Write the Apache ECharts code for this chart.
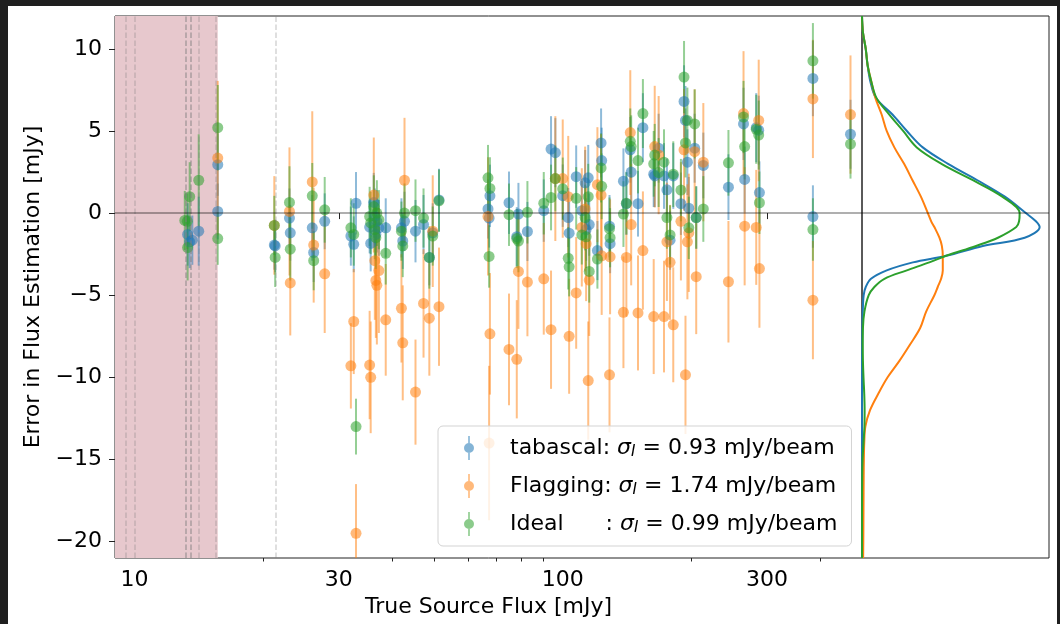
<!DOCTYPE html>
<html><head><meta charset="utf-8">
<script src="https://cdn.jsdelivr.net/npm/echarts@6/dist/echarts.min.js"></script>
<style>
html,body{margin:0;padding:0;background:#1f1f1f;width:1060px;height:624px;overflow:hidden}
#chart{position:absolute;left:8px;top:6px;width:1049px;height:618px;background:#fff}
</style></head>
<body><div id="chart"></div>
<script>
// ---------- data ----------
const X_RANGE = [9.0, 500];          // true source flux [mJy] (log axis)
const Y_RANGE = [-21, 12];           // error in flux estimation [mJy]
const X_TICKS = [10, 30, 100, 300];
const X_MINOR = [20, 40, 50, 60, 70, 80, 90, 200, 400];
const Y_TICKS = [-20, -15, -10, -5, 0, 5, 10];
const FLAG_SPAN = [9.0, 15.64];
const DASHED_FLUX = [9.54, 9.96, 13.1, 13.28, 13.45, 13.64, 14.12, 15.64, 21.2];
const SERIES_NAMES = ['tabascal', 'Flagging', 'Ideal'];
const SIGMA_LABELS = ['0.93', '1.74', '0.99'];
const NAME_PADS = ['tabascal: ', 'Flagging: ', 'Ideal      : '];

// [flux, error, error-bar half length]
const tabascal = [
 [13.3,-1.3,1.9],[13.45,-1.75,1.6],[13.64,-1.65,1.5],[14.12,-1.1,2.1],[15.64,2.95,1.9],[15.64,0.1,1.7],
 [21.2,-1.95,1.5],[21.3,-2.0,1.6],[23.0,-0.3,1.8],[23.1,-1.2,1.7],[26.0,-0.9,2.0],[26.2,-2.4,1.8],[27.8,-0.5,1.7],
 [32.0,-1.4,1.8],[32.9,0.6,1.9],[32.5,-1.9,1.7],
 [35.4,-0.85,1.6],[35.6,-1.85,1.7],[36.2,0.65,1.8],[36.4,-0.2,1.7],[36.6,-1.3,1.6],[36.8,-0.5,1.9],[37.2,-0.9,1.7],[38.6,-0.9,1.8],
 [42.0,-0.9,1.8],[42.3,-1.7,1.7],[42.7,-0.5,1.8],[45.3,-1.1,1.9],[47.3,-0.7,1.8],[48.8,-2.7,1.7],[49.7,-1.2,1.8],[51.4,0.8,1.9],
 [66.9,0.25,1.8],[67.6,1.05,1.9],[67.3,-0.3,1.8],[74.9,0.63,1.9],[78.1,-1.44,1.8],[78.8,-0.06,1.9],[82.7,-1.12,1.8],
 [90.3,0.15,1.9],[93.9,3.9,2.0],[96.1,3.68,2.1],[100,1.06,1.9],[103,-0.27,1.8],[103.5,-1.22,1.9],
 [107.5,2.22,1.9],[110.8,0.15,1.8],[112.8,1.84,2.0],[113.4,-1.0,1.9],[114.7,2.15,2.0],[115.3,-0.7,1.9],[120.5,-2.28,1.8],
 [122.9,4.27,2.1],[123.3,3.2,2.0],[128.6,-0.8,1.9],[129,-1.86,1.8],[138.6,1.94,2.0],[140.8,0.57,1.9],[143.8,3.85,2.0],
 [144.5,2.5,1.9],[149.9,0.57,2.0],[153.9,5.2,2.1],[163.1,2.37,2.0],[164,2.26,1.9],[167.5,3.95,2.1],[172.4,2.26,2.0],
 [175.1,1.42,1.9],[178.1,-1.65,1.8],[181.2,2.26,2.0],[188.8,0.57,1.9],[192,6.8,2.2],[193.5,5.64,2.1],[195.5,3.1,2.0],
 [197,0.3,1.9],[203.3,3.95,2.1],[205,-0.27,1.9],[213,2.9,2.0],[243.8,1.58,2.0],[264.4,5.43,2.2],[266,2.05,2.0],
 [283.1,5.2,2.1],[286.9,5.05,2.1],[288,1.25,1.9],[384,8.2,2.3],[384,-0.21,1.9],[470,4.8,2.1]
];
const flagging = [
 [15.64,3.35,4.7],
 [21.2,-0.75,3.0],[23.0,0.1,3.9],[23.1,-4.25,3.2],[26.0,1.9,4.3],[26.2,-1.95,3.5],[27.8,-3.7,3.6],
 [32.0,-9.3,2.6],[32.9,-19.5,3.0],[32.5,-6.6,3.2],
 [35.4,-9.25,3.3],[35.6,-10.0,3.4],[36.2,1.1,3.5],[36.4,-2.9,3.6],[36.6,-4.1,3.5],[36.8,-4.4,3.6],[37.2,-3.5,3.8],[38.6,-6.5,3.4],
 [42.0,-5.8,3.3],[42.3,-7.9,3.5],[42.7,2.0,3.8],[45.3,-10.9,3.2],[47.3,-5.5,3.3],[48.8,-6.4,3.5],[49.7,-1.1,3.4],[51.4,-5.7,3.6],
 [66.9,-0.2,3.6],[67.6,-7.35,3.7],[67.3,-14.0,4.7],[74.9,-8.3,3.4],[78.1,-8.9,3.6],[78.8,-3.55,3.5],[82.7,-4.2,3.3],
 [90.3,-4.0,3.4],[93.9,-7.1,3.6],[96.1,2.1,3.8],[100,2.1,3.6],[103,1.0,3.7],[103.5,-7.5,3.5],
 [107.5,-4.86,3.4],[110.8,-0.87,3.6],[112.8,0.25,3.8],[113.4,-1.86,3.5],[114.7,-10.2,3.6],[115.3,-4.08,3.4],[120.5,1.73,3.5],
 [122.9,1.1,3.7],[123.3,-2.6,3.6],[128.6,-9.85,3.5],[129,-2.66,3.5],[138.6,-6.04,3.4],[140.8,-2.7,3.6],[143.8,4.9,3.8],
 [144.5,-0.7,3.7],[149.9,-6.08,3.5],[153.9,-2.28,3.6],[163.1,-6.3,3.5],[164,4.05,3.7],[167.5,3.53,3.6],[172.4,-6.3,3.4],
 [175.1,-1.75,3.6],[178.1,-3.0,3.5],[181.2,-6.8,3.5],[188.8,-0.5,3.6],[192,3.85,3.7],[193.5,-9.85,3.6],[195.5,-1.75,3.5],
 [197,-1.2,3.6],[203.3,3.74,3.8],[205,-3.87,3.5],[213,3.1,3.6],[243.8,-4.18,3.7],[264.4,6.06,3.8],[266,-0.8,3.6],
 [283.1,-0.87,3.5],[286.9,5.64,3.7],[288,-3.38,3.6],[384,6.95,3.6],[384,-5.3,3.6],[470,6.0,3.6]
];
const ideal = [
 [13.1,-0.45,1.8],[13.28,-0.5,1.7],[13.3,-2.1,2.0],[13.45,1.0,2.1],[14.12,2.0,2.8],[15.64,5.2,2.6],[15.64,-1.55,1.6],
 [21.2,-0.75,1.8],[21.3,-2.7,1.8],[23.0,0.65,2.2],[23.1,-2.2,1.9],[26.0,1.05,2.0],[26.2,-2.9,1.8],[27.8,0.2,2.0],
 [32.0,-0.9,1.8],[32.9,-13.0,1.7],[32.5,-1.3,1.9],
 [35.4,-0.2,1.8],[35.6,-0.6,1.9],[36.2,0.4,1.9],[36.4,-1.0,1.8],[36.6,-1.5,1.9],[36.8,0.0,2.0],[37.2,-0.4,1.8],[38.6,-2.45,1.9],
 [42.0,-1.1,1.8],[42.3,-2.0,1.9],[42.7,0.0,1.8],[45.3,0.15,1.9],[47.3,-0.3,1.8],[48.8,-2.7,1.9],[49.7,-1.4,1.8],[51.4,0.75,1.9],
 [66.9,2.15,2.0],[67.6,1.5,1.9],[67.3,-2.64,1.9],[74.9,-0.1,1.9],[78.1,-1.55,1.8],[78.8,-1.7,1.9],[82.7,0.05,1.9],
 [90.3,0.6,1.9],[93.9,0.95,2.0],[96.1,2.1,2.0],[100,1.48,1.9],[103,-2.75,1.9],[103.5,-3.27,1.8],
 [107.5,0.9,1.9],[110.8,-1.33,1.8],[112.8,-0.27,2.0],[113.4,-1.44,1.9],[114.7,1.0,2.0],[115.3,-3.55,1.9],[120.5,-2.8,1.8],
 [122.9,2.75,2.1],[123.3,1.63,2.0],[128.6,-0.95,1.9],[129,-1.5,1.8],[138.6,-0.06,2.0],[140.8,0.6,1.9],[143.8,4.37,2.0],
 [144.5,4.05,1.9],[149.9,3.2,2.0],[153.9,6.06,2.1],[163.1,3.0,2.0],[164,3.53,1.9],[167.5,2.47,2.1],[172.4,3.1,2.0],
 [175.1,-0.27,1.9],[178.1,-1.33,1.8],[181.2,2.37,2.0],[188.8,1.4,1.9],[192,8.28,2.2],[193.5,4.27,2.1],[195.5,5.64,2.0],
 [197,-0.9,1.9],[203.3,5.43,2.1],[205,-0.27,1.9],[213,0.25,2.0],[243.8,3.06,2.0],[264.4,5.85,2.2],[266,4.05,2.0],
 [283.1,5.1,2.1],[286.9,4.75,2.1],[288,0.63,1.9],[384,9.27,2.3],[384,-1.0,1.9],[470,4.2,2.1]
];

// KDE panel: error value (y) and relative density (x, fraction of panel width)
const KDE_Y    = [12, 11, 10, 9, 8, 7, 6, 5, 4, 3, 2, 1, 0, -0.5, -0.85, -1.5, -2, -2.6, -3, -3.5, -4, -4.5, -5, -6, -7, -8, -9, -10, -11, -12, -13, -14, -15, -16, -18, -20, -21];
const KDE_TAB  = [0, 0.005, 0.02, 0.03, 0.045, 0.075, 0.163, 0.24, 0.325, 0.46, 0.617, 0.764, 0.876, 0.93, 0.95, 0.87, 0.646, 0.45, 0.272, 0.129, 0.048, 0.02, 0.009, 0.004, 0.002, 0.001, 0, 0, 0, 0, 0, 0, 0, 0, 0, 0, 0];
const KDE_FLAG = [0, 0.005, 0.02, 0.03, 0.05, 0.072, 0.105, 0.132, 0.173, 0.225, 0.27, 0.315, 0.352, 0.37, 0.387, 0.414, 0.427, 0.432, 0.432, 0.432, 0.423, 0.405, 0.387, 0.343, 0.311, 0.257, 0.2, 0.137, 0.087, 0.043, 0.018, 0.012, 0.01, 0.009, 0.008, 0.007, 0.006];
const KDE_IDEAL= [0, 0.005, 0.02, 0.03, 0.05, 0.078, 0.146, 0.22, 0.293, 0.425, 0.593, 0.75, 0.843, 0.84, 0.825, 0.727, 0.61, 0.45, 0.36, 0.236, 0.12, 0.066, 0.036, 0.013, 0.005, 0.004, 0.005, 0.008, 0.012, 0.014, 0.013, 0.008, 0.003, 0.001, 0, 0, 0];

// ---------- chart ----------
const FONT = 'DejaVu Sans';
const COLORS = ['#1f77b4', '#ff7f0e', '#2ca02c'];
const LOG = v => Math.log10(v);
const fmtNum = v => (v < 0 ? '\u2212' + (-v) : String(v));

function errorBars(data, color) {
  return {
    type: 'custom', xAxisIndex: 0, yAxisIndex: 0, clip: true, silent: true, z: 3,
    data: data.map(d => [LOG(d[0]), d[1], d[2]]),
    encode: { x: 0, y: 1 },
    renderItem(params, api) {
      const x = api.value(0), y = api.value(1), e = api.value(2);
      const a = api.coord([x, y - e]), b = api.coord([x, y + e]);
      return { type: 'line', shape: { x1: a[0], y1: a[1], x2: b[0], y2: b[1] },
               style: { stroke: color, lineWidth: 2, opacity: 0.5 } };
    }
  };
}
function dots(name, data, color) {
  return {
    type: 'scatter', name, xAxisIndex: 0, yAxisIndex: 0, silent: true, z: 3,
    symbol: 'circle', symbolSize: 11,
    data: data.map(d => [LOG(d[0]), d[1]]),
    itemStyle: { color, opacity: 0.55 }
  };
}
function kde(name, dens, color) {
  return {
    type: 'line', name, xAxisIndex: 2, yAxisIndex: 1, silent: true, z: 3,
    smooth: 0.35, symbol: 'none',
    data: KDE_Y.map((y, i) => [dens[i], y]),
    lineStyle: { color, width: 2 }
  };
}

const ICON = 'path://M4.2,0 L5.8,0 L5.8,24 L4.2,24 Z M0,12 A5,5 0 1,1 10,12 A5,5 0 1,1 0,12 Z';
const DATASETS = [tabascal, flagging, ideal];

const series = [
  { type: 'scatter', xAxisIndex: 0, yAxisIndex: 0, data: [], silent: true, z: 1,
    markArea: { silent: true, itemStyle: { color: '#e7c8cd' },
      data: [[{ xAxis: LOG(FLAG_SPAN[0]) }, { xAxis: LOG(FLAG_SPAN[1]) }]] },
    markLine: { silent: true, symbol: 'none', label: { show: false },
      lineStyle: { color: 'rgba(128,128,128,0.33)', width: 1.5, type: [5.5, 2.5] },
      data: DASHED_FLUX.map(v => ({ xAxis: LOG(v) })) } },
  { type: 'scatter', xAxisIndex: 0, yAxisIndex: 0, data: [], silent: true, z: 2,
    markLine: { silent: true, symbol: 'none', label: { show: false },
      lineStyle: { color: 'rgba(0,0,0,0.42)', width: 1.6, type: 'solid' }, data: [{ yAxis: 0 }] } },
  { type: 'scatter', xAxisIndex: 2, yAxisIndex: 1, data: [], silent: true, z: 2,
    markLine: { silent: true, symbol: 'none', label: { show: false },
      lineStyle: { color: 'rgba(0,0,0,0.42)', width: 1.6, type: 'solid' }, data: [{ yAxis: 0 }] } }
];
DATASETS.forEach((d, i) => {
  series.push(errorBars(d, COLORS[i]));
  series.push(dots(SERIES_NAMES[i], d, COLORS[i]));
});
series.push(kde('kde-tabascal', KDE_TAB, COLORS[0]));
series.push(kde('kde-flagging', KDE_FLAG, COLORS[1]));
series.push(kde('kde-ideal', KDE_IDEAL, COLORS[2]));

const chart = echarts.init(document.getElementById('chart'), null, { renderer: 'canvas' });
chart.setOption({
  animation: false,
  backgroundColor: '#ffffff',
  textStyle: { fontFamily: FONT },
  grid: [
    { left: 107, top: 10, width: 747, height: 542, show: true, borderColor: '#222', borderWidth: 1, containLabel: false },
    { left: 854, top: 10, width: 187, height: 542, show: true, borderColor: '#222', borderWidth: 1, containLabel: false }
  ],
  xAxis: [
    { type: 'value', gridIndex: 0, min: LOG(X_RANGE[0]), max: LOG(X_RANGE[1]), position: 'bottom',
      name: 'True Source Flux [mJy]', nameLocation: 'middle', nameGap: 35,
      nameTextStyle: { fontFamily: FONT, fontSize: 22, color: '#000' },
      axisLine: { show: false }, splitLine: { show: false },
      axisTick: { show: true, length: 6, lineStyle: { color: '#222', width: 1 }, customValues: X_TICKS.map(LOG) },
      axisLabel: { fontFamily: FONT, fontSize: 22, color: '#000', margin: 11, customValues: X_TICKS.map(LOG),
        formatter: v => String(Math.round(Math.pow(10, v))) } },
    { type: 'value', gridIndex: 0, min: LOG(X_RANGE[0]), max: LOG(X_RANGE[1]), position: 'bottom', offset: 0,
      axisLine: { show: false }, splitLine: { show: false }, axisLabel: { show: false },
      axisTick: { show: true, length: 3.5, lineStyle: { color: '#222', width: 1 }, customValues: X_MINOR.map(LOG) } },
    { type: 'value', gridIndex: 1, min: 0, max: 1, show: false }
  ],
  yAxis: [
    { type: 'value', gridIndex: 0, min: Y_RANGE[0], max: Y_RANGE[1],
      name: 'Error in Flux Estimation [mJy]', nameLocation: 'middle', nameGap: 57, nameRotate: 90,
      nameTextStyle: { fontFamily: FONT, fontSize: 22, color: '#000' },
      axisLine: { show: false }, splitLine: { show: false },
      axisTick: { show: true, length: 6, lineStyle: { color: '#222', width: 1 }, customValues: Y_TICKS },
      axisLabel: { fontFamily: FONT, fontSize: 22, color: '#000', margin: 13, customValues: Y_TICKS, formatter: fmtNum } },
    { type: 'value', gridIndex: 1, min: Y_RANGE[0], max: Y_RANGE[1], show: false }
  ],
  legend: {
    orient: 'vertical', left: 430, top: 420, selectedMode: false,
    data: SERIES_NAMES.map(n => ({ name: n, icon: ICON })),
    itemWidth: 10, itemHeight: 24, itemGap: 14,
    padding: [10, 14, 10, 26],
    backgroundColor: 'rgba(255,255,255,0.8)', borderColor: '#d3d3d3', borderWidth: 1, borderRadius: 5,
    textStyle: { fontFamily: FONT, fontSize: 22, color: '#000', lineHeight: 24,
      rich: {
        gap: { width: 31, lineHeight: 24 },
        n: { fontFamily: FONT, fontSize: 22, color: '#000', lineHeight: 24 },
        s: { fontFamily: FONT, fontSize: 22, fontStyle: 'italic', color: '#000', lineHeight: 24 },
        i: { fontFamily: FONT, fontSize: 15, fontStyle: 'italic', color: '#000', lineHeight: 24, padding: [9, 0, 0, 0] },
        t: { fontFamily: FONT, fontSize: 22, color: '#000', lineHeight: 24 }
      } },
    formatter: name => {
      const k = SERIES_NAMES.indexOf(name);
      return '{gap|}{n|' + NAME_PADS[k] + '}{s|σ}{i|I}{t| = ' + SIGMA_LABELS[k] + ' mJy/beam}';
    }
  },
  series
});
</script>
</body></html>
